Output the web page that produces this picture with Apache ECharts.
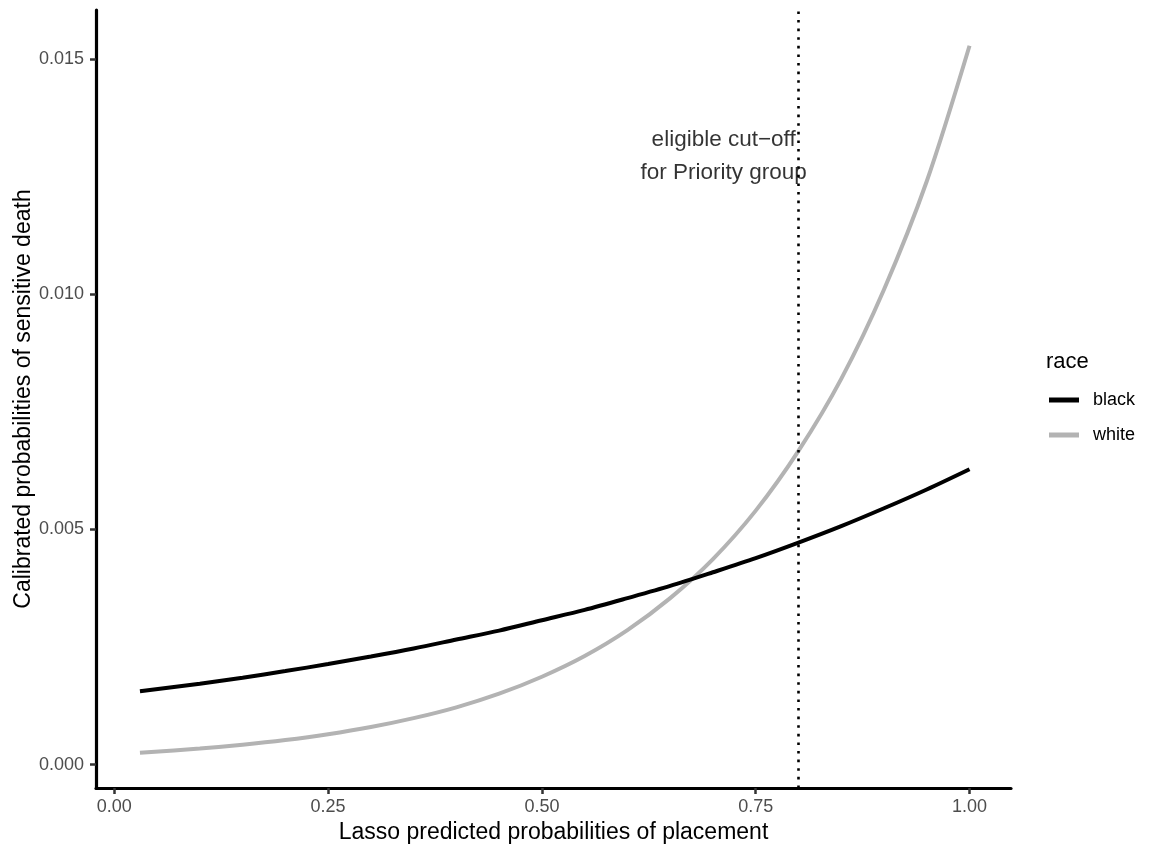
<!DOCTYPE html>
<html>
<head>
<meta charset="utf-8">
<title>Calibrated probabilities by race</title>
<script src="https://cdn.jsdelivr.net/npm/echarts@6/dist/echarts.min.js"></script>
<style>
  html, body { margin: 0; padding: 0; background: #ffffff; }
  #chart { width: 1149px; height: 845px; }
</style>
</head>
<body>
<div id="chart"></div>
<script>
// Lasso predicted probability of placement (x) and calibrated probability of sensitive death (y)
const placementProb = [0.03, 0.10, 0.15, 0.20, 0.25, 0.30, 0.35, 0.40, 0.45, 0.50, 0.55, 0.60, 0.65, 0.70, 0.75, 0.80, 0.85, 0.90, 0.95, 1.00];
const blackProb = [0.00156, 0.00172, 0.00185, 0.00199, 0.00214, 0.00230, 0.00247, 0.00266, 0.00285, 0.00307, 0.00329, 0.00354, 0.00380, 0.00409, 0.00439, 0.00472, 0.00507, 0.00545, 0.00585, 0.00628];
const whiteProb = [0.000255, 0.000343, 0.000424, 0.000524, 0.000648, 0.000801, 0.00099, 0.00122, 0.00151, 0.00187, 0.00231, 0.00286, 0.00354, 0.00437, 0.00540, 0.00667, 0.0082, 0.0101, 0.0124, 0.01528];

const raceNames = ['black', 'white'];
const xTicks = [0, 0.25, 0.5, 0.75, 1.0];
const yTicks = [0, 0.005, 0.010, 0.015];

// Priority-group cut-off and its note
const cutoff = 0.8;
const noteText = 'eligible cut\u2212off\nfor Priority group';
const notePos = [0.7125, 0.01293];

const FONT = '"Liberation Sans", Arial, sans-serif';

function pairs(xs, ys) {
  return xs.map((x, i) => [x, ys[i]]);
}

const chart = echarts.init(document.getElementById('chart'), null, { renderer: 'canvas' });

chart.setOption({
  backgroundColor: '#ffffff',
  animation: false,
  textStyle: { fontFamily: FONT },
  grid: { left: 96, right: 138, top: 10, bottom: 57, containLabel: false, outerBoundsMode: 'none' },
  xAxis: {
    type: 'value',
    min: -0.0214,
    max: 1.0485,
    name: 'Lasso predicted probabilities of placement',
    nameLocation: 'middle',
    nameGap: 33,
    nameMoveOverlap: false,
    nameTextStyle: { fontSize: 23, color: '#000000', fontFamily: FONT },
    axisLine: { show: true, onZero: false, lineStyle: { color: '#000000', width: 3.2 } },
    axisTick: { show: true, length: 6, customValues: xTicks, lineStyle: { color: '#333333', width: 2.5 } },
    axisLabel: {
      customValues: xTicks,
      margin: 10,
      fontSize: 18,
      color: '#4d4d4d',
      fontFamily: FONT,
      formatter: v => v.toFixed(2)
    },
    splitLine: { show: false }
  },
  yAxis: {
    type: 'value',
    min: -0.000495,
    max: 0.01604,
    name: 'Calibrated probabilities of sensitive death',
    nameLocation: 'middle',
    nameRotate: 90,
    nameGap: 61,
    nameMoveOverlap: false,
    nameTextStyle: { fontSize: 23, color: '#000000', fontFamily: FONT },
    axisLine: { show: true, onZero: false, lineStyle: { color: '#000000', width: 3.2 } },
    axisTick: { show: true, length: 6, customValues: yTicks, lineStyle: { color: '#333333', width: 2.5 } },
    axisLabel: {
      customValues: yTicks,
      margin: 12,
      fontSize: 18,
      color: '#4d4d4d',
      fontFamily: FONT,
      formatter: v => v.toFixed(3)
    },
    splitLine: { show: false }
  },
  legend: {
    data: raceNames,
    orient: 'vertical',
    left: 1049,
    top: 391,
    padding: 0,
    itemWidth: 30,
    itemHeight: 5,
    itemGap: 17,
    icon: 'rect',
    textStyle: { fontSize: 18, lineHeight: 18, color: '#000000', fontFamily: FONT, padding: [0, 0, 0, 9] }
  },
  graphic: [{
    type: 'text',
    left: 1046,
    top: 351,
    style: { text: 'race', fontSize: 22, fill: '#000000', fontFamily: FONT }
  }],
  series: [
    {
      name: raceNames[0],
      type: 'line',
      data: pairs(placementProb, blackProb),
      smooth: 0.3,
      showSymbol: false,
      symbol: 'none',
      color: '#000000',
      lineStyle: { color: '#000000', width: 4 },
      z: 3
    },
    {
      name: raceNames[1],
      type: 'line',
      data: pairs(placementProb, whiteProb),
      smooth: 0.3,
      showSymbol: false,
      symbol: 'none',
      color: '#b3b3b3',
      lineStyle: { color: '#b3b3b3', width: 4 },
      z: 2,
      markLine: {
        silent: true,
        symbol: ['none', 'none'],
        label: { show: false },
        lineStyle: { color: '#000000', width: 2.6, type: [2.6, 6], opacity: 1 },
        data: [{ xAxis: cutoff }]
      }
    },
    {
      name: 'note',
      type: 'scatter',
      data: [notePos],
      symbolSize: 0,
      silent: true,
      z: 5,
      label: {
        show: true,
        position: 'inside',
        formatter: noteText,
        fontSize: 22.5,
        lineHeight: 33,
        color: '#000000',
        fontFamily: FONT,
        align: 'center',
        verticalAlign: 'middle'
      }
    }
  ]
});
</script>
</body>
</html>
